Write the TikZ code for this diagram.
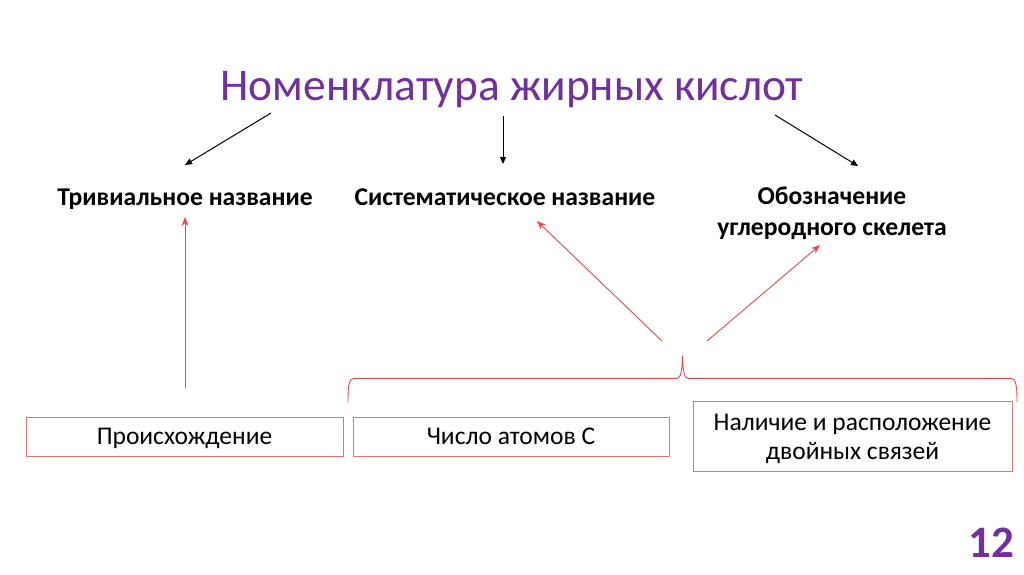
\documentclass[tikz,border=0pt]{standalone}
\usepackage{fontspec}
\setmainfont{Carlito}
\usetikzlibrary{arrows.meta}
\definecolor{ttl}{HTML}{7030A0}
\definecolor{rline}{HTML}{E8494F}
\definecolor{rbox}{HTML}{E57373}
\tikzset{
  blk/.style={-{Triangle[length=7pt,width=6pt]},line width=1pt,black},
  red/.style={-{Stealth[length=9pt,width=7pt]},line width=0.9pt,rline},
  hdr/.style={font=\fontsize{25.6}{31}\selectfont\bfseries,align=center,inner sep=0},
  boxed/.style={draw=rbox,line width=0.9pt,font=\fontsize{25.5}{29}\selectfont,align=center,inner sep=0,text depth=0pt},
}
\begin{document}
\begin{tikzpicture}[x=1pt,y=-1pt]
\useasboundingbox[fill=white] (0,0) rectangle (1024,574);
\node[font=\fontsize{45.4}{50}\selectfont,text=ttl,inner sep=0,anchor=base] (title) at (512,100) {Номенклатура жирных кислот};
\node[hdr,anchor=base] (triv) at (185,205) {Тривиальное название};
\node[hdr,anchor=base] (sys) at (505,205) {Систематическое название};
\node[hdr] (obo) at (832,213) {Обозначение\\углеродного скелета};
\node[boxed,minimum width=317pt,minimum height=39pt] (orig) at (184.5,436.5) {Происхождение};
\node[boxed,minimum width=316pt,minimum height=39pt] (num) at (511,436.5) {Число атомов С};
\node[boxed,minimum width=319pt,minimum height=70pt] (dbl) at (852.5,436.5) {Наличие и расположение\\двойных связей};
\node[font=\fontsize{45}{48}\selectfont\bfseries,text=ttl,inner sep=0,anchor=base] (pg) at (991,557) {12};
\coordinate (a1s) at (271,113); \coordinate (a1e) at (185,165);
\coordinate (a2s) at (503,116); \coordinate (a2e) at (503,164);
\coordinate (a3s) at (775,115); \coordinate (a3e) at (858,166);
\draw[blk] (a1s) -- (a1e);
\draw[blk] (a2s) -- (a2e);
\draw[blk] (a3s) -- (a3e);
\coordinate (r1s) at (185,388); \coordinate (r1e) at (185,217);
\coordinate (r2s) at (662,341); \coordinate (r2e) at (537,221);
\coordinate (r3s) at (707,341); \coordinate (r3e) at (820,245);
\draw[red] (r1s) -- (r1e);
\draw[red] (r2s) -- (r2e);
\draw[red] (r3s) -- (r3e);
\coordinate (bl) at (348,402); \coordinate (br) at (1017,402); \coordinate (tip) at (682.5,355.5);
\draw[rline,line width=0.9pt] (bl) .. controls (348,386) and (349,378.3) .. (354,378.3) -- (677,378.3)
  .. controls (680.5,378.3) and (682,372) .. (tip)
  .. controls (683,372) and (684.5,378.3) .. (688,378.3) -- (1011,378.3)
  .. controls (1016,378.3) and (1017,386) .. (br);
\end{tikzpicture}
\end{document}
